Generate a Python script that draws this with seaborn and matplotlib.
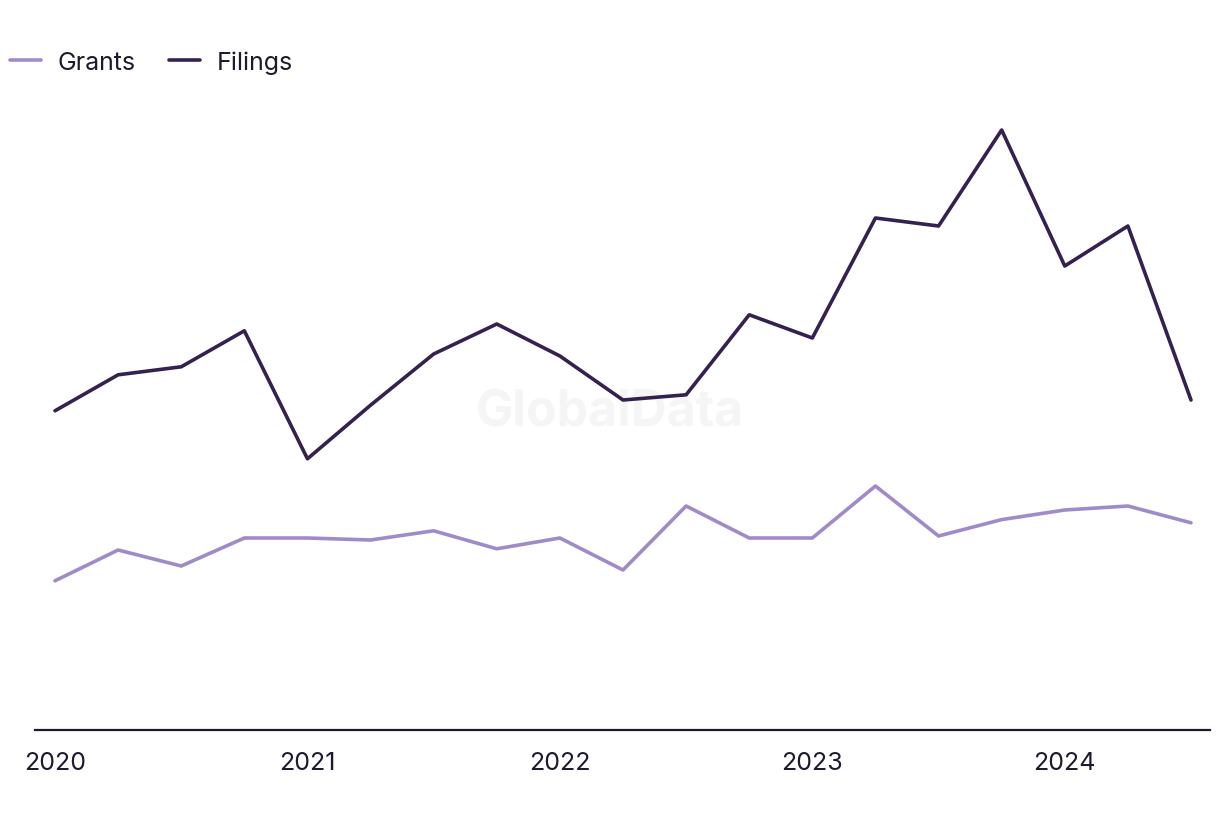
import matplotlib
matplotlib.use("Agg")
import matplotlib.pyplot as plt
import seaborn as sns
import pandas as pd

# quarterly data, 2020 Q1 .. 2024 Q3
quarters = [2020.0, 2020.25, 2020.5, 2020.75,
            2021.0, 2021.25, 2021.5, 2021.75,
            2022.0, 2022.25, 2022.5, 2022.75,
            2023.0, 2023.25, 2023.5, 2023.75,
            2024.0, 2024.25, 2024.5]
filings = [79.8, 88.8, 90.8, 99.8, 67.8, 81.2, 94.0, 101.5, 93.5, 82.5,
           83.8, 103.8, 98.0, 128.0, 126.0, 150.0, 116.0, 126.0, 82.5]
grants = [37.3, 45.0, 41.0, 48.0, 48.0, 47.5, 49.8, 45.3, 48.0, 40.0,
          56.0, 48.0, 48.0, 61.0, 48.5, 52.6, 55.0, 56.0, 51.8]
year_ticks = [2020, 2021, 2022, 2023, 2024]

df = pd.DataFrame({
    "quarter": quarters * 2,
    "count": grants + filings,
    "series": ["Grants"] * len(grants) + ["Filings"] * len(filings),
})

sns.set_theme(style="white")
plt.rcParams["font.family"] = ["Inter", "DejaVu Sans"]

text_color = "#1c1b2e"
palette = {"Grants": "#a08bc8", "Filings": "#35214f"}

fig = plt.figure(figsize=(12.2, 8.2), dpi=100)
ax = fig.add_axes([35 / 1220, 89 / 820, 1175 / 1220, 630 / 820])

sns.lineplot(data=df, x="quarter", y="count", hue="series", palette=palette,
             hue_order=["Grants", "Filings"], linewidth=2.6, ax=ax)

ax.set_xlim(2020 - 20 / 252.5, 2024.5 + 19 / 252.5)
ax.set_ylim(0, 157.5)
ax.set_xticks(year_ticks)
ax.set_xticklabels([str(y) for y in year_ticks])
ax.set_yticks([])
ax.set_xlabel("")
ax.set_ylabel("")
ax.tick_params(axis="x", length=0, pad=15, labelsize=18, colors=text_color)

for side in ["top", "right", "left"]:
    ax.spines[side].set_visible(False)
ax.spines["bottom"].set_color(text_color)
ax.spines["bottom"].set_linewidth(1.6)

# watermark
ax.text((610 - 35) / 1175, (730 - 412) / 630, "GlobalData", transform=ax.transAxes,
        ha="center", va="center", fontsize=36, fontweight="bold",
        color="#f5f5f5", zorder=0)

ax.legend(loc="center left", bbox_to_anchor=(-25 / 1175, (730 - 62) / 630),
          ncol=2, frameon=False, fontsize=18, handlelength=1.25,
          handletextpad=0.64, columnspacing=1.35, borderaxespad=0,
          borderpad=0, labelcolor=text_color)

fig.savefig("out.png", dpi=100)
